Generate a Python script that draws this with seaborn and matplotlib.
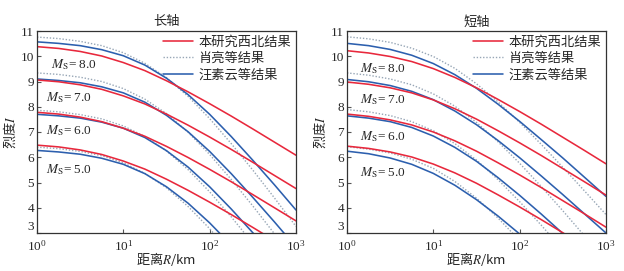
import matplotlib
matplotlib.use("Agg")
import matplotlib.pyplot as plt
from matplotlib.lines import Line2D
from matplotlib.ticker import NullLocator, FixedLocator
import seaborn as sns

# ---------------- data ----------------
R = [1, 1.778, 3.162, 5.623, 10, 17.78, 31.62, 56.23, 100, 177.8, 316.2, 562.3, 1000]
magnitudes = [8.0, 7.0, 6.0, 5.0]
panel_titles = ["长轴", "短轴"]
legend_labels = ["本研究西北结果", "肖亮等结果", "汪素云等结果"]

# long axis (长轴)
long_red_M8 = [10.38, 10.31, 10.19, 10.01, 9.75, 9.43, 9.03, 8.59, 8.12, 7.63, 7.12, 6.60, 6.08]
long_red_M7 = [9.06, 8.99, 8.87, 8.69, 8.43, 8.11, 7.71, 7.27, 6.80, 6.31, 5.80, 5.28, 4.76]
long_red_M6 = [7.78, 7.71, 7.59, 7.41, 7.15, 6.83, 6.43, 5.99, 5.52, 5.03, 4.52, 4.00, 3.48]
long_red_M5 = [6.48, 6.41, 6.29, 6.11, 5.85, 5.53, 5.13, 4.69, 4.22, 3.73, 3.22, 2.70]

long_xiao_M8 = [10.76, 10.70, 10.59, 10.42, 10.14, 9.72, 9.15, 8.41, 7.53, 6.54, 5.49, 4.39, 3.26]
long_xiao_M7 = [9.34, 9.28, 9.17, 9.00, 8.72, 8.30, 7.73, 6.99, 6.11, 5.12, 4.07, 2.97]
long_xiao_M6 = [7.86, 7.80, 7.69, 7.52, 7.24, 6.82, 6.25, 5.51, 4.63, 3.64, 2.59]
long_xiao_M5 = [6.40, 6.34, 6.23, 6.06, 5.78, 5.36, 4.79, 4.05, 3.17, 2.18]

long_wang_M8 = [10.57, 10.51, 10.42, 10.26, 10.02, 9.65, 9.13, 8.48, 7.70, 6.82, 5.88, 4.91, 3.91]
long_wang_M7 = [9.10, 9.04, 8.95, 8.79, 8.55, 8.18, 7.66, 7.01, 6.23, 5.35, 4.41, 3.44, 2.44]
long_wang_M6 = [7.70, 7.64, 7.55, 7.39, 7.15, 6.78, 6.26, 5.61, 4.83, 3.95, 3.01, 2.04]
long_wang_M5 = [6.27, 6.21, 6.12, 5.96, 5.72, 5.35, 4.83, 4.18, 3.40, 2.52]

# short axis (短轴)
short_red_M8 = [10.22, 10.13, 9.99, 9.79, 9.51, 9.16, 8.75, 8.29, 7.81, 7.31, 6.79, 6.27, 5.74]
short_red_M7 = [8.98, 8.89, 8.75, 8.55, 8.27, 7.92, 7.51, 7.05, 6.57, 6.07, 5.55, 5.03, 4.50]
short_red_M6 = [7.71, 7.62, 7.48, 7.28, 7.00, 6.65, 6.24, 5.78, 5.30, 4.80, 4.28, 3.76, 3.23]
short_red_M5 = [6.44, 6.35, 6.21, 6.01, 5.73, 5.38, 4.97, 4.51, 4.03, 3.53, 3.01, 2.49]

short_xiao_M8 = [10.77, 10.69, 10.55, 10.32, 9.99, 9.52, 8.91, 8.19, 7.38, 6.51, 5.60, 4.67, 3.73]
short_xiao_M7 = [9.34, 9.25, 9.10, 8.87, 8.51, 8.02, 7.38, 6.61, 5.76, 4.84, 3.88, 2.89]
short_xiao_M6 = [7.89, 7.80, 7.65, 7.41, 7.05, 6.54, 5.89, 5.11, 4.24, 3.31, 2.33]
short_xiao_M5 = [6.42, 6.32, 6.17, 5.92, 5.56, 5.04, 4.38, 3.59, 2.70]

short_wang_M8 = [10.51, 10.42, 10.27, 10.04, 9.71, 9.27, 8.73, 8.10, 7.42, 6.70, 5.97, 5.21, 4.45]
short_wang_M7 = [9.08, 8.99, 8.84, 8.61, 8.28, 7.83, 7.29, 6.66, 5.98, 5.26, 4.52, 3.76, 3.00]
short_wang_M6 = [7.64, 7.55, 7.41, 7.18, 6.84, 6.39, 5.84, 5.19, 4.49, 3.75, 2.98]
short_wang_M5 = [6.24, 6.14, 5.97, 5.72, 5.36, 4.89, 4.32, 3.67, 2.96]

panels = [
    {
        "red": [long_red_M8, long_red_M7, long_red_M6, long_red_M5],
        "xiao": [long_xiao_M8, long_xiao_M7, long_xiao_M6, long_xiao_M5],
        "wang": [long_wang_M8, long_wang_M7, long_wang_M6, long_wang_M5],
        "labels": [(1.47, 9.65), (1.28, 8.35), (1.28, 7.07), (1.28, 5.50)],
    },
    {
        "red": [short_red_M8, short_red_M7, short_red_M6, short_red_M5],
        "xiao": [short_xiao_M8, short_xiao_M7, short_xiao_M6, short_xiao_M5],
        "wang": [short_wang_M8, short_wang_M7, short_wang_M6, short_wang_M5],
        "labels": [(1.43, 9.52), (1.43, 8.30), (1.43, 6.83), (1.43, 5.41)],
    },
]

# ---------------- style ----------------
sns.set_theme(style="ticks")
plt.rcParams["font.family"] = ["Liberation Serif", "Noto Sans CJK SC"]
plt.rcParams["mathtext.fontset"] = "stix"
plt.rcParams["axes.unicode_minus"] = False

RED = "#e8283c"
BLUE = "#2c5fae"
GREY = "#97a6b6"
FS = 9.5
CJK = ["Noto Sans CJK SC", "Liberation Serif"]

styles = {
    "red": dict(color=RED, lw=1.15, ls="-"),
    "xiao": dict(color=GREY, lw=1.0, ls=(0, (1, 1.3))),
    "wang": dict(color=BLUE, lw=1.15, ls="-"),
}

fig = plt.figure(figsize=(6.24, 2.71), dpi=100)
axes = [
    fig.add_axes([37 / 624, 38 / 271, 259 / 624, 202 / 271]),
    fig.add_axes([347 / 624, 38 / 271, 259 / 624, 202 / 271]),
]

for ax, panel, title in zip(axes, panels, panel_titles):
    for key in ["xiao", "wang", "red"]:
        st = styles[key]
        for vals in panel[key]:
            sns.lineplot(x=R[:len(vals)], y=vals, ax=ax, color=st["color"],
                         linewidth=st["lw"], linestyle=st["ls"],
                         estimator=None, sort=False, legend=False)
    for m, (lx, ly) in zip(magnitudes, panel["labels"]):
        ax.text(lx, ly, r"$M_{\mathrm{S}}$= " + f"{m:.1f}", fontsize=FS,
                va="center", ha="left")

    ax.set_xscale("log")
    ax.set_xlim(1, 1000)
    ax.set_ylim(3, 11)
    ax.yaxis.set_major_locator(FixedLocator(list(range(3, 12))))
    ax.xaxis.set_minor_locator(NullLocator())
    ax.tick_params(axis="both", which="major", direction="in", length=3,
                   width=0.8, labelsize=FS, pad=2, color="#555555")
    ax.tick_params(axis="x", pad=4)
    for sp in ax.spines.values():
        sp.set_visible(True)
        sp.set_linewidth(0.9)
        sp.set_color("#333333")
    ax.set_title(title, fontsize=FS, pad=4, family=CJK)
    ax.set_xlabel("距离$R$/km", fontsize=FS, labelpad=-2, family=CJK)
    ax.set_ylabel("烈度$I$", fontsize=FS, labelpad=2, family=CJK)

    handles = [Line2D([], [], color=styles[k]["color"], lw=styles[k]["lw"],
                      ls=styles[k]["ls"]) for k in ["red", "xiao", "wang"]]
    ax.legend(handles, legend_labels, loc="upper right", frameon=False,
              handlelength=2.3, handletextpad=0.4,
              labelspacing=0.25, borderaxespad=0.25, borderpad=0.1,
              prop={"family": CJK, "size": FS})

fig.canvas.draw()
for ax in axes:
    ylabels = ax.get_yticklabels()
    if ylabels:
        ylabels[0].set_va("bottom")

fig.savefig("out.png", dpi=100)
